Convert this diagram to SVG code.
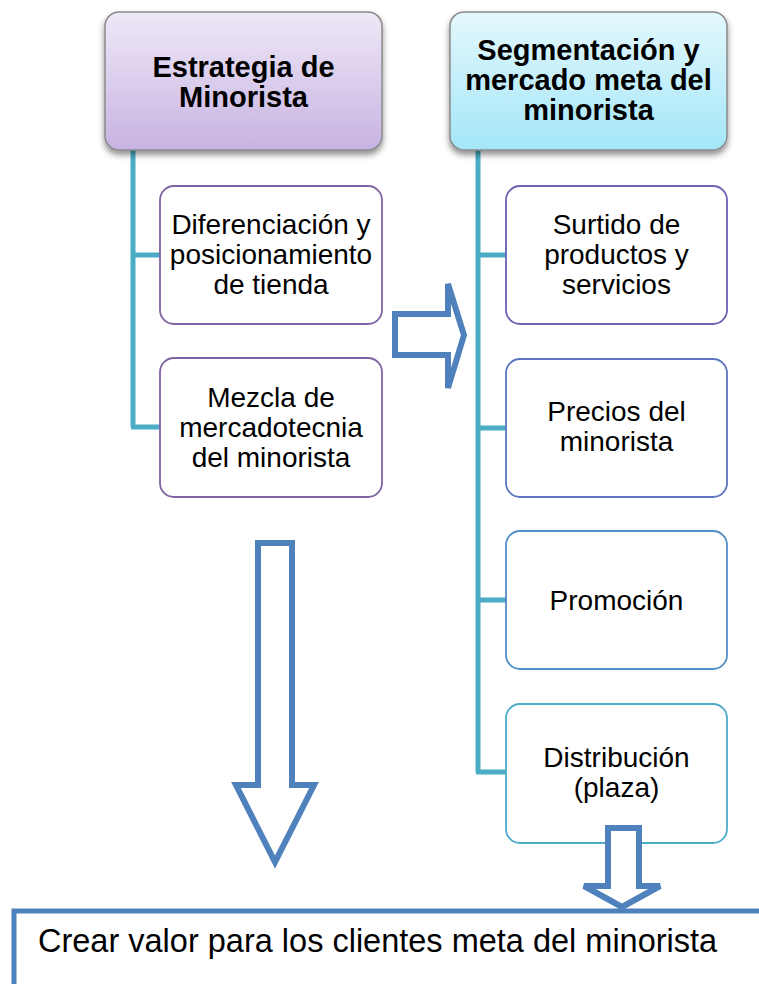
<svg xmlns="http://www.w3.org/2000/svg" width="759" height="984" viewBox="0 0 759 984">
<defs>
<linearGradient id="gPurple" x1="0" y1="0" x2="0" y2="1">
<stop offset="0" stop-color="#efe8f7"/>
<stop offset="1" stop-color="#c7b3e2"/>
</linearGradient>
<linearGradient id="gCyan" x1="0" y1="0" x2="0" y2="1">
<stop offset="0" stop-color="#e4f8fd"/>
<stop offset="1" stop-color="#a4e6f8"/>
</linearGradient>
<filter id="shadow" x="-10%" y="-10%" width="120%" height="130%">
<feDropShadow dx="0" dy="4" stdDeviation="3" flood-color="#000" flood-opacity="0.45"/>
</filter>
</defs>
<style>
.hdr{stroke:#8a8a8a;stroke-width:1.5;filter:url(#shadow)}
.box{fill:#fff;stroke-width:1.8}
.conn{fill:none;stroke:#4bacc6;stroke-width:5}
.arrow{fill:#fff;stroke:#4f81bd;stroke-width:6;stroke-linejoin:miter}
.ht{font-family:"Liberation Sans",Arial,sans-serif;font-weight:bold;font-size:29px;text-anchor:middle;fill:#000}
.ct{font-family:"Liberation Sans",Arial,sans-serif;font-size:28px;text-anchor:middle;fill:#000}
.bt{font-family:"Liberation Sans",Arial,sans-serif;font-size:32.5px;fill:#000}
</style>
<rect width="759" height="984" fill="#fff"/>
<g id="connectors">
<path class="conn" d="M133,150 V427 M131,255 H160 M131,427 H160"/>
<path class="conn" d="M478,150 V772 M476,255 H506 M476,428 H506 M476,600 H506 M476,772 H506"/>
</g>
<g id="n-estrategia">
<rect class="hdr" x="105" y="12" width="277" height="138" rx="14" fill="url(#gPurple)"/>
<text class="ht" x="243.5" y="77">Estrategia de</text>
<text class="ht" x="243.5" y="107">Minorista</text>
</g>
<g id="n-segmentacion">
<rect class="hdr" x="450" y="12" width="277" height="138" rx="14" fill="url(#gCyan)"/>
<text class="ht" x="588.5" y="60">Segmentación y</text>
<text class="ht" x="588.5" y="90">mercado meta del</text>
<text class="ht" x="588.5" y="120">minorista</text>
</g>
<g id="n-diferenciacion">
<rect class="box" x="160" y="186" width="222" height="138" rx="14" stroke="#8064a2"/>
<text class="ct" x="271" y="234">Diferenciación y</text>
<text class="ct" x="271" y="264">posicionamiento</text>
<text class="ct" x="271" y="294">de tienda</text>
</g>
<g id="n-mezcla">
<rect class="box" x="160" y="358" width="222" height="139" rx="14" stroke="#8064a2"/>
<text class="ct" x="271" y="407">Mezcla de</text>
<text class="ct" x="271" y="437">mercadotecnia</text>
<text class="ct" x="271" y="467">del minorista</text>
</g>
<g id="n-surtido">
<rect class="box" x="506" y="186" width="221" height="138" rx="14" stroke="#6c62b4"/>
<text class="ct" x="616.5" y="234">Surtido de</text>
<text class="ct" x="616.5" y="264">productos y</text>
<text class="ct" x="616.5" y="294">servicios</text>
</g>
<g id="n-precios">
<rect class="box" x="506" y="359" width="221" height="138" rx="14" stroke="#5d74c0"/>
<text class="ct" x="616.5" y="421">Precios del</text>
<text class="ct" x="616.5" y="451">minorista</text>
</g>
<g id="n-promocion">
<rect class="box" x="506" y="531" width="221" height="138" rx="14" stroke="#538ec8"/>
<text class="ct" x="616.5" y="610">Promoción</text>
</g>
<g id="n-distribucion">
<rect class="box" x="506" y="704" width="221" height="139" rx="14" stroke="#4eaccb"/>
<text class="ct" x="616.5" y="767">Distribución</text>
<text class="ct" x="616.5" y="797">(plaza)</text>
</g>
<g id="arrows">
<path class="arrow" d="M395,314 H448 V284 L464,335 L448,388 V355 H395 Z"/>
<path class="arrow" d="M258,543 H292 V785 H314 L275,862 L236,785 H258 Z"/>
<path class="arrow" d="M608,828 H639 V886 H660 L622,907 L584,886 H608 Z"/>
</g>
<g id="n-crear">
<path d="M14,990 V911 H770" fill="none" stroke="#4f81bd" stroke-width="5"/>
<text class="bt" x="38" y="952">Crear valor para los clientes meta del minorista</text>
</g>
</svg>
